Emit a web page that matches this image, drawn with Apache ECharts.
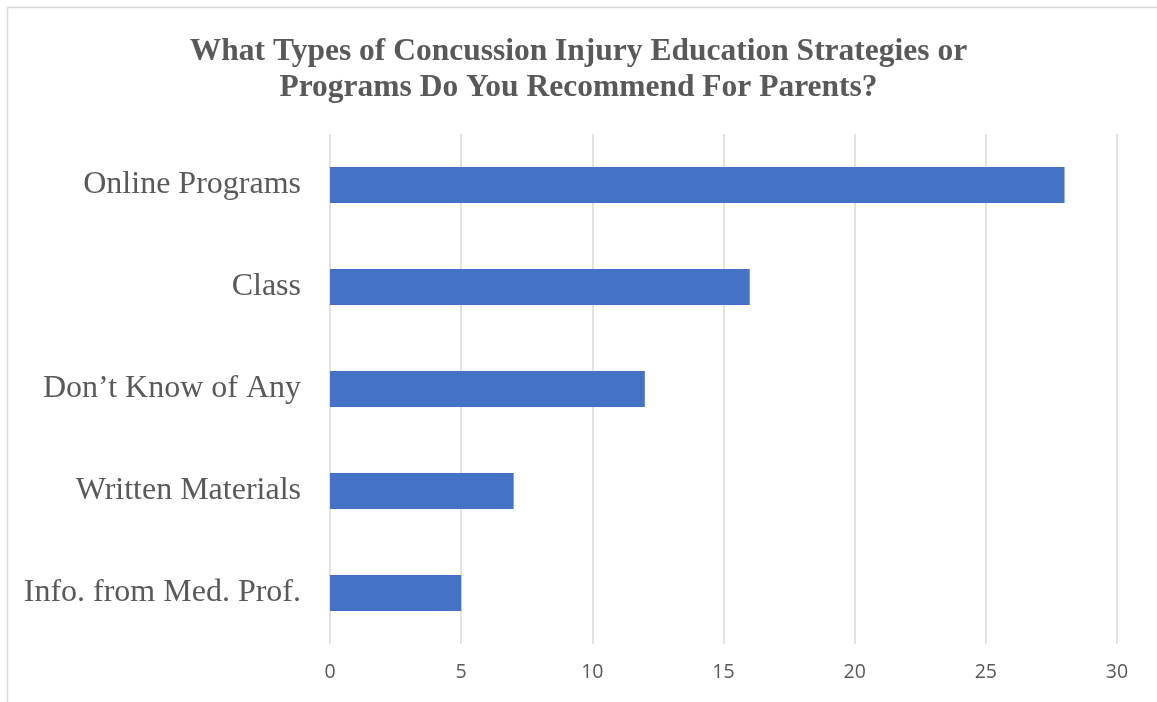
<!DOCTYPE html>
<html>
<head>
<meta charset="utf-8">
<script src="https://cdn.jsdelivr.net/npm/echarts@6/dist/echarts.min.js"></script>
<style>
  html, body { margin: 0; padding: 0; background: #fff; }
  #chart { width: 1157px; height: 702px; }
</style>
</head>
<body>
<div id="chart"></div>
<script>
// chart data
var categories = ['Info. from Med. Prof.', 'Written Materials', 'Don\u2019t Know of Any', 'Class', 'Online Programs']
var counts = [5, 7, 12, 16, 28]
var xTicks = { min: 0, max: 30, interval: 5 }
var titleText = 'What Types of Concussion Injury Education Strategies or\nPrograms Do You Recommend For Parents?'

var chart = echarts.init(document.getElementById('chart'))
chart.setOption({
  animation: false,
  title: {
    text: titleText,
    left: 'center',
    top: 29,
    textStyle: {
      fontFamily: 'Liberation Serif',
      fontWeight: 'bold',
      fontSize: 31.5,
      lineHeight: 36,
      color: '#595959'
    }
  },
  graphic: [
    { type: 'line', shape: { x1: 7.5, y1: 7.5, x2: 1157, y2: 7.5 }, style: { stroke: '#d9d9d9', lineWidth: 1.5 } },
    { type: 'line', shape: { x1: 7.5, y1: 7.5, x2: 7.5, y2: 702 }, style: { stroke: '#d9d9d9', lineWidth: 1.5 } }
  ],
  grid: {
    left: 330,
    right: 40,
    top: 134,
    bottom: 58
  },
  xAxis: {
    type: 'value',
    min: xTicks.min,
    max: xTicks.max,
    interval: xTicks.interval,
    axisLine: { show: false },
    axisTick: { show: false },
    axisLabel: {
      margin: 18,
      fontFamily: 'Open Sans',
      fontSize: 19.5,
      color: '#595959'
    },
    splitLine: {
      lineStyle: { color: '#d9d9d9', width: 1.5 }
    }
  },
  yAxis: {
    type: 'category',
    data: categories,
    axisLine: { show: false },
    axisTick: { show: false },
    axisLabel: {
      margin: 29,
      padding: [4, 0, 0, 0],
      fontFamily: 'Liberation Serif',
      fontSize: 32,
      color: '#595959'
    }
  },
  series: [{
    type: 'bar',
    data: counts,
    barWidth: 36,
    itemStyle: { color: '#4472C4' }
  }]
})
</script>
</body>
</html>
